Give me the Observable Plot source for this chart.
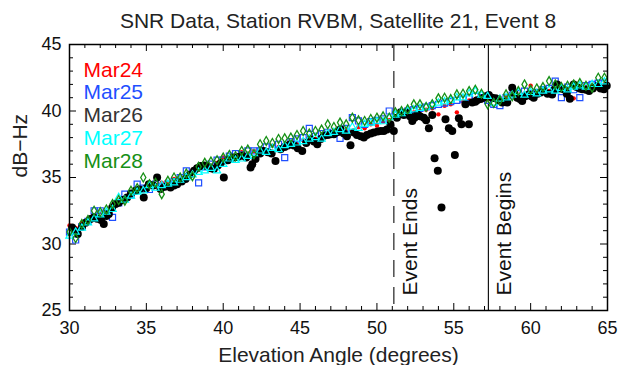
<!DOCTYPE html>
<html><head><meta charset="utf-8">
<script src="https://cdn.jsdelivr.net/npm/d3@7"></script>
<script src="https://cdn.jsdelivr.net/npm/@observablehq/plot@0.6"></script>
<style>
body{margin:0;background:#fff;font-family:"Liberation Sans",Arial,Helvetica,sans-serif;}
#title{width:618px;height:30px;line-height:42px;box-sizing:border-box;padding-left:69px;padding-right:11px;text-align:center;font-size:21px;color:#222;white-space:nowrap;overflow:visible;}
#chart{height:335px;}
</style></head><body>
<div id="title">SNR Data, Station RVBM, Satellite 21, Event 8</div>
<div id="chart"></div>
<script>
// ---------- data ----------
const xTicks = [30, 35, 40, 45, 50, 55, 60, 65];
const yTicks = [25, 30, 35, 40, 45];
const seriesNames = ["Mar24", "Mar25", "Mar26", "Mar27", "Mar28"];
const eventAngles = [51.1, 57.25];
const eventLabels = ["Event Ends", "Event Begins"];

// elevation angles sampled for Mar24, Mar25, Mar27, Mar28
const elevGrid = [30.0,30.4,30.8,31.2,31.6,32.0,32.4,32.8,33.2,33.6,34.0,34.4,34.8,35.2,35.6,36.0,36.4,36.8,37.2,37.6,38.0,38.4,38.8,39.2,39.6,40.0,40.4,40.8,41.2,41.6,42.0,42.4,42.8,43.2,43.6,44.0,44.4,44.8,45.2,45.6,46.0,46.4,46.8,47.2,47.6,48.0,48.4,48.8,49.2,49.6,50.0,50.4,50.8,51.2,51.6,52.0,52.4,52.8,53.2,53.6,54.0,54.4,54.8,55.2,55.6,56.0,56.4,56.8,57.2,57.6,58.0,58.4,58.8,59.2,59.6,60.0,60.4,60.8,61.2,61.6,62.0,62.4,62.8,63.2,63.6,64.0,64.4,64.8];

const mar24 = [31.4,31.2,31.6,31.9,32.0,32.4,32.3,32.9,33.0,33.4,33.9,34.1,34.0,34.4,34.3,34.6,34.5,34.9,35.0,35.1,35.5,35.6,36.0,35.9,36.1,36.5,36.4,36.6,36.9,36.8,37.0,37.2,37.0,37.4,37.3,37.5,37.7,37.5,37.8,38.0,37.9,38.1,38.2,38.5,38.3,38.6,38.5,38.8,38.7,39.0,38.9,39.2,39.3,39.5,39.7,39.8,39.9,40.0,40.1,40.2,39.75,40.4,40.5,39.9,40.7,40.8,40.9,41.0,40.9,41.0,41.0,41.1,41.2,41.1,41.3,41.9,41.4,41.4,41.5,41.5,41.6,41.7,40.95,41.8,41.8,41.9,42.0,42.0];

const mar25 = [30.9,30.3,31.3,31.7,32.5,32.5,32.3,32.0,33.1,33.75,33.7,34.5,34.2,34.1,34.5,34.3,34.5,34.7,35.0,35.5,35.3,34.6,35.8,36.0,36.3,36.3,36.6,36.8,36.7,37.0,37.0,37.0,37.3,37.2,37.5,36.5,37.7,37.9,38.0,38.7,38.1,38.3,38.4,38.3,37.95,38.7,39.5,39.25,39.0,39.2,39.3,39.4,40.0,39.7,39.9,40.0,40.1,40.2,40.3,40.4,40.5,40.6,40.7,40.8,40.9,41.0,41.1,41.0,40.8,40.5,40.4,41.0,41.2,41.3,41.5,41.3,41.4,41.6,41.7,42.25,41.0,41.8,41.6,41.0,41.9,42.0,42.1,42.1];

const mar27 = [30.6,30.9,31.2,31.6,31.9,32.2,32.4,32.6,33.5,33.3,33.6,33.9,34.0,34.4,34.2,34.4,34.5,34.6,34.8,35.0,35.2,35.4,35.5,35.7,35.5,36.0,36.4,36.3,36.4,36.6,36.8,37.0,36.9,37.2,37.1,37.4,37.5,37.6,37.7,37.9,38.0,37.9,38.3,38.4,38.6,38.5,38.8,38.7,39.0,39.1,39.2,39.2,39.5,39.7,39.8,40.0,40.1,40.2,40.3,40.5,40.6,40.7,40.8,41.0,41.0,41.3,41.5,41.2,41.1,40.6,40.9,41.0,41.2,41.4,41.2,41.4,41.3,41.5,41.6,41.5,41.7,41.6,41.8,41.9,41.8,42.0,42.0,42.2];

const mar28 = [30.9,30.45,31.5,31.8,32.5,32.4,32.6,33.0,33.3,33.25,34.0,34.2,35.0,34.5,34.6,33.75,34.75,35.0,35.0,35.3,35.1,35.8,36.1,36.2,36.3,36.5,36.7,36.6,37.0,37.1,36.75,37.5,37.75,37.6,37.9,37.95,38.0,38.2,38.5,38.3,38.5,38.6,39.0,38.8,39.13,39.0,39.5,39.3,39.25,39.4,39.5,39.6,39.5,39.9,40.0,40.13,40.5,40.5,40.3,40.5,40.95,41.0,40.9,41.25,41.3,41.5,41.6,41.3,40.5,40.6,40.8,41.25,41.1,41.5,42.0,41.6,41.7,41.8,42.25,42.0,41.8,41.9,42.0,42.1,41.9,41.75,42.5,42.5];

// Mar26: [elevation angle, dB-Hz]
const mar26 = [[30.17,31.25],[30.35,31.0],[30.54,30.75],[30.82,31.3],[31.05,31.6],[31.37,31.88],[31.58,32.0],[31.8,31.9],[32.05,31.8],[32.23,31.5],[32.4,32.1],[32.56,32.25],[32.78,32.75],[33.0,33.0],[33.2,33.1],[33.45,33.3],[33.75,33.5],[34.0,33.8],[34.3,34.0],[34.55,34.1],[34.83,33.5],[35.0,34.2],[35.16,34.5],[35.45,34.4],[35.7,35.0],[35.92,34.13],[36.2,34.3],[36.57,34.25],[36.8,34.4],[37.0,34.5],[37.3,34.7],[37.55,34.88],[37.8,35.2],[38.1,35.5],[38.3,35.7],[38.52,35.87],[38.75,35.9],[38.96,35.87],[39.2,35.7],[39.39,35.63],[39.65,35.9],[39.85,36.1],[40.04,35.0],[40.3,36.3],[40.5,36.45],[40.69,36.5],[40.95,36.55],[41.24,36.63],[41.5,36.5],[41.78,35.75],[41.89,36.0],[42.1,36.4],[42.4,36.8],[42.64,37.0],[42.9,36.9],[43.15,36.8],[43.4,36.25],[43.73,37.13],[44.0,37.3],[44.2,37.4],[44.38,37.5],[44.6,37.4],[44.85,37.2],[45.14,37.0],[45.4,37.6],[45.68,37.88],[45.9,37.7],[46.12,37.5],[46.35,37.9],[46.55,38.13],[46.8,38.2],[47.0,38.25],[47.2,38.25],[47.4,38.4],[47.63,38.63],[47.85,38.3],[48.05,38.1],[48.28,37.43],[48.5,38.38],[48.7,38.2],[48.95,38.1],[49.15,38.0],[49.35,38.2],[49.6,38.3],[49.8,38.38],[50.05,38.45],[50.25,38.5],[50.45,38.5],[50.65,38.6],[50.88,39.0],[51.1,38.5],[51.3,39.5],[51.54,39.88],[51.75,39.7],[51.97,39.88],[52.15,39.6],[52.3,39.25],[52.45,39.5],[52.62,39.75],[52.8,39.6],[53.05,39.5],[53.2,39.3],[53.38,38.7],[53.6,39.7],[53.75,36.45],[53.96,35.5],[54.2,32.75],[54.46,39.38],[54.68,38.7],[54.9,38.5],[55.07,36.7],[55.33,39.45],[55.5,39.0],[55.76,40.5],[55.98,39.0],[56.2,40.63],[56.4,40.7],[56.52,40.8],[56.75,40.9],[56.95,41.0],[57.1,41.1],[57.28,41.2],[57.5,41.0],[57.72,40.95],[57.9,40.8],[58.15,40.63],[58.3,40.7],[58.48,40.63],[58.8,41.75],[58.95,41.3],[59.13,41.0],[59.3,40.9],[59.45,40.75],[59.65,41.1],[59.88,41.25],[60.05,41.1],[60.2,41.0],[60.45,41.3],[60.65,41.4],[60.86,41.5],[61.1,41.3],[61.4,41.25],[61.55,41.6],[61.73,42.0],[61.95,41.7],[62.16,41.63],[62.35,41.3],[62.55,40.93],[62.8,42.0],[63.0,41.8],[63.2,41.7],[63.36,41.63],[63.6,41.6],[63.8,41.5],[64.05,41.7],[64.33,41.88],[64.55,41.7],[64.77,41.63],[64.95,41.9]];

// ---------- styles / layout ----------
const colors = {Mar24: "#ff0000", Mar25: "#1f4fff", Mar26: "#333333", Mar27: "#00ffff", Mar28: "#169016"};
const W = 618, H = 335, mt = 14, mb = 55, ml = 69, mr = 11;
const ph = H - mt - mb, pw = W - ml - mr;
const majorLen = 7, minorLen = 4;

const grid = (vals) => elevGrid.map((e, i) => ({e, v: vals[i]}));
const rows24 = grid(mar24), rows25 = grid(mar25), rows27 = grid(mar27), rows28 = grid(mar28);
const rows26 = mar26.map(([e, v]) => ({e, v}));

const xMinor = d3.range(31, 65).filter(d => d % 5 !== 0);
const yMinor = d3.range(26, 45).filter(d => d % 5 !== 0);

const legendMarks = seriesNames.map((name, i) => Plot.text([name], {
  frameAnchor: "top-left", dx: 14, dy: 32 + i * 22.75, text: d => d,
  fill: colors[name], fontSize: 21, lineAnchor: "bottom", textAnchor: "start"
}));

const chart = Plot.plot({
  width: W, height: H,
  marginTop: mt, marginBottom: mb, marginLeft: ml, marginRight: mr,
  style: {fontSize: "18px", fontFamily: "'Liberation Sans', Arial, Helvetica, sans-serif", color: "#000", background: "#fff"},
  x: {domain: [30, 65], axis: null},
  y: {domain: [25, 45], axis: null},
  marks: [
    Plot.tickX(xTicks, {x: d => d, insetTop: ph - majorLen, stroke: "#000"}),
    Plot.tickX(xTicks, {x: d => d, insetBottom: ph - majorLen, stroke: "#000"}),
    Plot.tickX(xMinor, {x: d => d, insetTop: ph - minorLen, stroke: "#000"}),
    Plot.tickX(xMinor, {x: d => d, insetBottom: ph - minorLen, stroke: "#000"}),
    Plot.tickY(yTicks, {y: d => d, insetRight: pw - majorLen, stroke: "#000"}),
    Plot.tickY(yTicks, {y: d => d, insetLeft: pw - majorLen, stroke: "#000"}),
    Plot.tickY(yMinor, {y: d => d, insetRight: pw - minorLen, stroke: "#000"}),
    Plot.tickY(yMinor, {y: d => d, insetLeft: pw - minorLen, stroke: "#000"}),
    Plot.ruleX([eventAngles[0]], {x: d => d, stroke: "#333", strokeWidth: 1.3, strokeDasharray: "17,10"}),
    Plot.ruleX([eventAngles[1]], {x: d => d, stroke: "#000", strokeWidth: 1.1}),
    Plot.dot(rows24, {x: "e", y: "v", r: 2.2, fill: colors.Mar24, stroke: "none"}),
    Plot.dot(rows25, {x: "e", y: "v", symbol: "square", r: 3.4, fill: "none", stroke: colors.Mar25, strokeWidth: 1.2}),
    Plot.dot(rows26, {x: "e", y: "v", r: 4, fill: "#000", stroke: "none"}),
    Plot.dot(rows27, {x: "e", y: "v", symbol: "triangle", r: 2.7, fill: "none", stroke: colors.Mar27, strokeWidth: 1.2}),
    Plot.dot(rows28, {x: "e", y: "v", symbol: "diamond", r: 2.7, fill: "none", stroke: colors.Mar28, strokeWidth: 1.3}),
    Plot.frame({stroke: "#000", strokeWidth: 1.5}),
    Plot.axisX({ticks: xTicks, tickSize: 0, tickPadding: 11, label: null, fill: "#111"}),
    Plot.axisY({ticks: yTicks, tickSize: 0, tickPadding: 8, label: null, fill: "#111"}),
    Plot.text(eventAngles, {x: d => d, frameAnchor: "bottom", text: (d, i) => eventLabels[i],
      rotate: -90, textAnchor: "start", lineAnchor: "bottom", dx: 23, dy: -15, fontSize: 21, fill: "#111"}),
    Plot.text(["dB\u2212Hz"], {frameAnchor: "left", text: d => d, dx: -49, rotate: -90, fontSize: 21, fill: "#222"}),
    Plot.text(["Elevation Angle (degrees)"], {frameAnchor: "bottom", text: d => d, dy: 51, lineAnchor: "bottom", fontSize: 21, fill: "#222"}),
    ...legendMarks
  ]
});
document.getElementById("chart").appendChild(chart);
</script>
</body></html>
